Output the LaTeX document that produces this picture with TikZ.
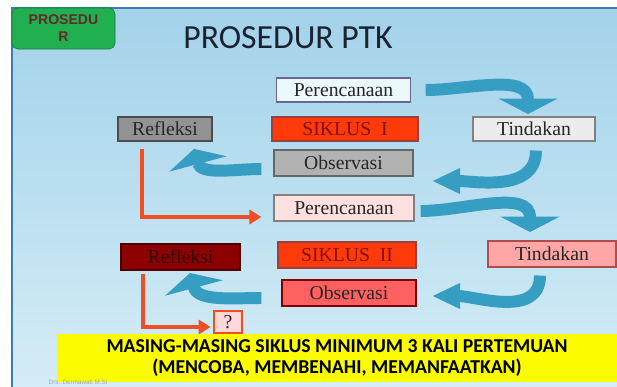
\documentclass[tikz,border=0pt]{standalone}
\usepackage{fontspec}
\setmainfont{Liberation Serif}
\newfontfamily\calibri{Carlito}
\newfontfamily\arialfont{Liberation Sans}
\usepackage{tikz}
\usetikzlibrary{arrows.meta}

\definecolor{slidetop}{RGB}{163,210,234}
\definecolor{slidebottom}{RGB}{212,237,246}
\definecolor{slideline}{RGB}{60,125,170}
\definecolor{tagfill}{RGB}{32,176,80}
\definecolor{tagtext}{RGB}{100,40,40}
\definecolor{titlecol}{RGB}{25,35,50}
\definecolor{arrowblue}{RGB}{55,158,195}
\definecolor{arrowred}{RGB}{240,78,35}
\definecolor{sikfill}{RGB}{255,58,10}
\definecolor{siktext}{RGB}{130,15,15}
\definecolor{notefill}{RGB}{252,252,0}

\begin{document}
\begin{tikzpicture}[x=0.025cm, y=-0.025cm,
  box/.style={rectangle, draw, line width=0.8pt, inner sep=0pt,
    minimum height=0.6cm, text=black!85,
    font=\fontsize{14}{14}\selectfont},
  bluearrow/.style={draw=arrowblue, line width=8.5pt},
  flathead/.style={bluearrow, -{Triangle[width=42pt, length=11pt]}},
  longhead/.style={bluearrow, -{Triangle[width=17pt, length=20pt]}},
  redarrow/.style={draw=arrowred, line width=2.8pt,
    -{Triangle[width=10pt, length=8.5pt]}}]
  % slide background
  \useasboundingbox (0,0) rectangle (617,387);
  \fill[white] (0,0) rectangle (617,387);
  \shade[top color=slidetop, bottom color=slidebottom] (12,8) rectangle (617,387);
  \draw[slideline, line width=1pt] (12,387) -- (12,8) -- (617,8);

  % header
  \node[fill=tagfill, draw=tagfill!70!black, rounded corners=4pt,
    minimum width=2.575cm, minimum height=1.025cm, align=center,
    text=tagtext, font=\arialfont\bfseries\fontsize{10}{12}\selectfont]
    (tag) at (63.5,28.5) {PROSEDU\\R};
  \node[text=titlecol, font=\calibri\fontsize{24}{24}\selectfont]
    (title) at (288,38) {PROSEDUR PTK};

  % siklus I
  \node[box, fill=cyan!8, draw=gray!80!blue, minimum width=3.33cm] (per1) at (343.5,90) {Perencanaan};
  \node[box, fill=gray!85, draw=gray!140, minimum width=2.35cm] (ref1) at (165,129) {Refleksi};
  \node[box, fill=sikfill, draw=siktext!80, text=siktext, minimum width=3.65cm] (sik1) at (345,129) {SIKLUS\ \ I};
  \node[box, fill=gray!15, draw=gray, minimum width=3.05cm] (tin1) at (534,129) {Tindakan};
  \node[box, fill=gray!60, draw=gray!120, minimum width=3.475cm, minimum height=0.65cm] (obs1) at (343.5,163) {Observasi};

  % siklus II
  \node[box, fill=red!12, draw=gray, minimum width=3.5cm, minimum height=0.65cm] (per2) at (344,208) {Perencanaan};
  \node[box, fill=red!55!black, draw=red!30!black, text=red!20!black, minimum width=2.975cm, minimum height=0.65cm] (ref2) at (180.5,257) {Refleksi};
  \node[box, fill=sikfill, draw=siktext!80, text=siktext, minimum width=3.45cm, minimum height=0.65cm] (sik2) at (347,255) {SIKLUS\ \ II};
  \node[box, fill=red!35, draw=red!40!gray, minimum width=3.2cm, minimum height=0.65cm] (tin2) at (552,254) {Tindakan};
  \node[box, fill=red!50!pink, draw=red!50!black, minimum width=3.35cm, minimum height=0.65cm] (obs2) at (349,293) {Observasi};
  \node[box, fill=pink!60, draw=arrowred, line width=2pt, minimum width=0.7cm, minimum height=0.55cm] (ask) at (228,322) {?};

  % turning arrows
  \coordinate (tip1) at (528,114);
  \coordinate (tip2) at (432,181);
  \coordinate (tip3) at (194,149);
  \coordinate (tip4) at (530,232);
  \coordinate (tip5) at (432,296);
  \coordinate (tip6) at (190,273);
  \draw[flathead] ([xshift=0.375cm]per1.east) to[out=0, in=90] (tip1);
  \draw[longhead] ([xshift=0.05cm, yshift=-0.225cm]tin1.south) to[out=-90, in=0] (tip2);
  \draw[flathead] ([xshift=-0.3cm, yshift=-0.15cm]obs1.west) to[out=180, in=-75] (tip3);
  \draw[flathead] ([xshift=0.15cm, yshift=-0.075cm]per2.east) to[out=0, in=90] (tip4);
  \draw[longhead] ([xshift=-0.3cm, yshift=-0.2cm]tin2.south) to[out=-90, in=0] (tip5);
  \draw[flathead] ([xshift=-0.5cm, yshift=-0.125cm]obs2.west) to[out=180, in=-75] (tip6);

  % next cycle
  \draw[redarrow] ([xshift=-0.575cm, yshift=-0.175cm]ref1.south) |- ([xshift=-0.3cm, yshift=-0.225cm]per2.west);
  \draw[redarrow] ([xshift=-0.9375cm, yshift=-0.075cm]ref2.south) |- ([xshift=-0.05cm, yshift=-0.125cm]ask.west);

  % note
  \node[fill=notefill, minimum width=14cm, minimum height=1.2cm, inner sep=0pt,
    align=center, font=\calibri\bfseries\fontsize{14}{14.5}\selectfont]
    (note) at (337,358) {MASING-MASING SIKLUS MINIMUM 3 KALI PERTEMUAN\\(MENCOBA, MEMBENAHI, MEMANFAATKAN)};
  \node[text=gray!70, font=\arialfont\fontsize{4.5}{5}\selectfont] (sign) at (78,382) {Drs. Dermawati M.Si};
\end{tikzpicture}
\end{document}
